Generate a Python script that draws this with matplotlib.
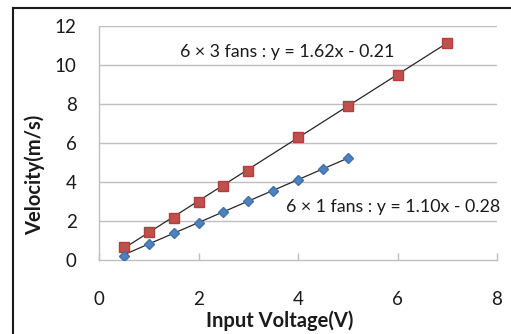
import matplotlib
matplotlib.use("Agg")
import matplotlib.pyplot as plt
from matplotlib.lines import Line2D
import numpy as np

plt.rcParams['font.family'] = ['Lato', 'DejaVu Sans']

# Data
x_3fans = [0.5, 1, 1.5, 2, 2.5, 3, 4, 5, 6, 7]
v_3fans = [0.68, 1.42, 2.14, 3.0, 3.82, 4.58, 6.29, 7.89, 9.5, 11.14]
x_1fan = [0.5, 1, 1.5, 2, 2.5, 3, 3.5, 4, 4.5, 5]
v_1fan = [0.22, 0.80, 1.40, 1.92, 2.46, 3.03, 3.56, 4.11, 4.66, 5.21]
fit_3fans = (1.62, -0.21)
fit_1fan = (1.10, -0.28)
label_3fans = "6 × 3 fans : y = 1.62x - 0.21"
label_1fan = "6 × 1 fans : y = 1.10x - 0.28"
xticks = [0, 2, 4, 6, 8]
yticks = [0, 2, 4, 6, 8, 10, 12]

W, H = 511, 334
fig = plt.figure(figsize=(W/100, H/100), dpi=100)
ax = fig.add_axes([99/W, 1-260/H, (497-99)/W, (260-26)/H])

grid_c = '#BFBFBF'
for y in yticks[1:]:
    ax.axhline(y, color=grid_c, lw=1.0, zorder=0)

# trendlines
for xs, (m, b) in ((x_3fans, fit_3fans), (x_1fan, fit_1fan)):
    xx = np.array([min(xs), max(xs)])
    ax.plot(xx, m*xx + b, color='#262626', lw=0.9, zorder=2)

ax.plot(x_3fans, v_3fans, 's', color='#C0504D', markeredgecolor='#B0403D',
        markersize=7.8, zorder=3, linestyle='none')
ax.plot(x_1fan, v_1fan, 'D', color='#4F81BD', markeredgecolor='#3F71AD',
        markersize=5.4, zorder=3, linestyle='none')

ax.set_xlim(0, 8)
ax.set_ylim(0, 12)
ax.set_xticks(xticks)
ax.set_yticks(yticks)
ax.tick_params(axis='x', direction='in', length=5, width=1, color=grid_c,
               pad=22, labelsize=13.5, labelcolor='#1a1a1a')
ax.tick_params(axis='y', length=0, pad=16, labelsize=13.5, labelcolor='#1a1a1a')
for s in ('top', 'right'):
    ax.spines[s].set_visible(False)
for s in ('left', 'bottom'):
    ax.spines[s].set_color(grid_c)
    ax.spines[s].set_linewidth(1.0)

ax.text(1.63, 10.65, label_3fans, fontsize=12.8, color='#1a1a1a', va='center', ha='left')
ax.text(3.76, 2.72, label_1fan, fontsize=12.8, color='#1a1a1a', va='center', ha='left')

fig.text(35/W, 1-175/H, "Velocity(m/s)", rotation=90, fontsize=14.5, fontweight='bold',
         ha='center', va='center', color='#1a1a1a')
fig.text(280/W, 1-321/H, "Input Voltage(V)", fontsize=14.5, fontweight='bold',
         ha='center', va='center', color='#1a1a1a')

# outer frame (left and top edges visible)
fig.add_artist(Line2D([13/W, 13/W], [0, 1-8/H], color='#1a1a1a', lw=1.5,
                      transform=fig.transFigure))
fig.add_artist(Line2D([13/W, 1], [1-8/H, 1-8/H], color='#1a1a1a', lw=1.5,
                      transform=fig.transFigure))

fig.savefig("out.png", dpi=100, facecolor='white')
